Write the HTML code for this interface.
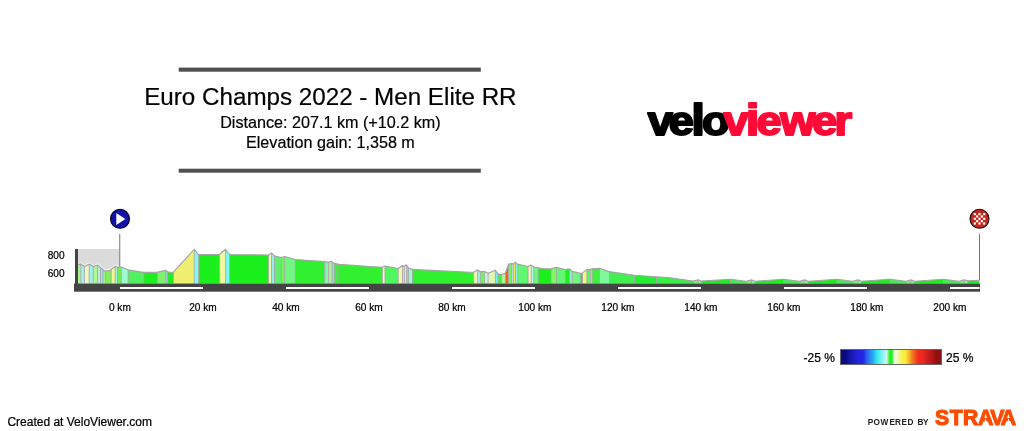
<!DOCTYPE html>
<html><head><meta charset="utf-8"><title>Euro Champs 2022 - Men Elite RR</title>
<style>
html,body{margin:0;padding:0;background:#fff}
body{width:1024px;height:431px;position:relative;overflow:hidden;font-family:"Liberation Sans",sans-serif;color:#000}
svg{position:absolute;left:0;top:0}
svg text{font-family:"Liberation Sans",sans-serif}
</style></head><body>
<svg width="1024" height="431" viewBox="0 0 1024 431">
<defs>
<clipPath id="cp"><polygon points="78,283.5 78,264.7 80.5,263.9 84.6,266.6 89.5,263.9 93.4,266.5 97.8,265.05 101.25,268.3 104.7,271.2 110,270.2 114.9,266.6 117.9,267.3 121.3,267.0 128.1,269.7 143.2,272.4 156.9,272.4 165.7,270.2 167.7,271.9 170,272.2 173.4,272.2 194.2,249.3 198.3,254.5 219.3,254.5 225.5,249.3 229.6,254.5 268.6,255.0 271.5,253 274.4,255.8 281.2,257.5 284.6,256.5 295.4,259.5 324.2,261.6 328.1,262.4 331.7,261.4 334,263.4 339.3,264.4 370,266.5 382.2,267.3 384.6,266 398.3,268.5 402.2,265.5 404.2,266.5 406.3,264.75 408.6,268 412.5,269.4 470,272.2 473.4,272.2 477.6,269.9 480.7,271.9 484.6,271.4 488.1,273.3 495.2,270.2 498.3,274.1 501.7,274.5 505.2,273.3 508.6,264.1 512,263.6 513.5,264.1 515.4,262.1 517.4,264.1 528.1,266.5 531,265 534.5,267.3 542.3,268.5 550.6,268.9 556.4,267.3 565.2,269.6 569.5,268.9 572.4,271.4 581.7,273.5 587.1,269.4 590,269.6 592,268.7 599.8,268.3 609,271.6 634.5,275.3 656.4,276.8 670,277.7 693,281.1 698.3,279.8 701.25,281.1 730.5,279.2 746.2,281.2 751.5,279.9 755.0,281.2 783.7,279.2 799.4,281.2 804.7,279.9 808.2,281.2 836.9,279.2 852.6,281.2 857.9,279.9 861.4,281.2 890.1,279.2 905.8,281.2 911.1,279.9 914.6,281.2 943.3,279.2 959.0,281.2 964.3,279.9 967.8,280.7 979.5,280.2 979.5,283.5"/></clipPath>
<linearGradient id="lg" x1="0" x2="1" y1="0" y2="0">
<stop offset="0" stop-color="#0a0a82"/>
<stop offset="0.05" stop-color="#0a0a82"/>
<stop offset="0.08" stop-color="#14149c"/>
<stop offset="0.13" stop-color="#1c1cc0"/>
<stop offset="0.18" stop-color="#2424e0"/>
<stop offset="0.225" stop-color="#2424e0"/>
<stop offset="0.25" stop-color="#2c50f0"/>
<stop offset="0.285" stop-color="#2880f0"/>
<stop offset="0.32" stop-color="#28a8f0"/>
<stop offset="0.36" stop-color="#30e8f0"/>
<stop offset="0.4" stop-color="#70f0f0"/>
<stop offset="0.43" stop-color="#a0f4f0"/>
<stop offset="0.457" stop-color="#ccf8f0"/>
<stop offset="0.474" stop-color="#70f870"/>
<stop offset="0.488" stop-color="#20f020"/>
<stop offset="0.508" stop-color="#20f020"/>
<stop offset="0.521" stop-color="#70f870"/>
<stop offset="0.536" stop-color="#f8f8e0"/>
<stop offset="0.55" stop-color="#f8f8d8"/>
<stop offset="0.575" stop-color="#f0f8a0"/>
<stop offset="0.615" stop-color="#f8f040"/>
<stop offset="0.64" stop-color="#f8f040"/>
<stop offset="0.66" stop-color="#f8d030"/>
<stop offset="0.686" stop-color="#f8a828"/>
<stop offset="0.708" stop-color="#f08020"/>
<stop offset="0.731" stop-color="#f06020"/>
<stop offset="0.753" stop-color="#f04020"/>
<stop offset="0.78" stop-color="#f02820"/>
<stop offset="0.81" stop-color="#f02820"/>
<stop offset="0.843" stop-color="#d82020"/>
<stop offset="0.9" stop-color="#b81818"/>
<stop offset="0.95" stop-color="#901010"/>
<stop offset="1" stop-color="#8c1010"/>
</linearGradient>
</defs>
<rect x="178.7" y="67.6" width="302.1" height="4.1" fill="#505050"/>
<rect x="178.7" y="168.7" width="302.1" height="4" fill="#505050"/>
<!-- neutral zone -->
<rect x="78" y="249" width="41.5" height="30" fill="#dbdbdb"/>
<g clip-path="url(#cp)">
<rect x="78" y="245" width="2.8" height="40" fill="#a8f58a"/>
<rect x="80.8" y="245" width="3.6" height="40" fill="#a0f0f0"/>
<rect x="84.4" y="245" width="4.8" height="40" fill="#f0f8c0"/>
<rect x="89.2" y="245" width="4.0" height="40" fill="#a0f0f0"/>
<rect x="93.2" y="245" width="4.3" height="40" fill="#b0f890"/>
<rect x="97.5" y="245" width="3.0" height="40" fill="#c0e8e0"/>
<rect x="100.5" y="245" width="2.5" height="40" fill="#80f0f0"/>
<rect x="103" y="245" width="2.4" height="40" fill="#a8f58a"/>
<rect x="105.4" y="245" width="5.8" height="40" fill="#80f060"/>
<rect x="111.2" y="245" width="4.0" height="40" fill="#f0f890"/>
<rect x="115.2" y="245" width="2.3" height="40" fill="#a0f0f0"/>
<rect x="117.5" y="245" width="3.8" height="40" fill="#70f050"/>
<rect x="121.3" y="245" width="6.8" height="40" fill="#a0f8d0"/>
<rect x="128.1" y="245" width="15.6" height="40" fill="#50f060"/>
<rect x="143.7" y="245" width="13.7" height="40" fill="#1cf01c"/>
<rect x="157.4" y="245" width="8.6" height="40" fill="#80f070"/>
<rect x="166" y="245" width="1.7" height="40" fill="#90e0f0"/>
<rect x="167.7" y="245" width="5.7" height="40" fill="#1cf01c"/>
<rect x="173.4" y="245" width="20.8" height="40" fill="#f0f070"/>
<rect x="194.2" y="245" width="4.3" height="40" fill="#80f8f8"/>
<rect x="198.5" y="245" width="21.0" height="40" fill="#1cf01c"/>
<rect x="219.5" y="245" width="6.1" height="40" fill="#f0f8a0"/>
<rect x="225.6" y="245" width="4.0" height="40" fill="#80f8f8"/>
<rect x="229.6" y="245" width="39.0" height="40" fill="#1cf01c"/>
<rect x="268.6" y="245" width="2.9" height="40" fill="#f0f8b0"/>
<rect x="271.5" y="245" width="3.0" height="40" fill="#90f0f0"/>
<rect x="274.5" y="245" width="6.9" height="40" fill="#60f070"/>
<rect x="281.4" y="245" width="3.2" height="40" fill="#70f850"/>
<rect x="284.6" y="245" width="10.6" height="40" fill="#70f880"/>
<rect x="295.2" y="245" width="29.5" height="40" fill="#30f030"/>
<rect x="324.7" y="245" width="3.9" height="40" fill="#80f8b0"/>
<rect x="328.6" y="245" width="3.5" height="40" fill="#b0f090"/>
<rect x="332.1" y="245" width="2.2" height="40" fill="#90e0e0"/>
<rect x="334.3" y="245" width="4.7" height="40" fill="#40f040"/>
<rect x="339" y="245" width="43.4" height="40" fill="#30f030"/>
<rect x="382.4" y="245" width="2.6" height="40" fill="#f0f8c0"/>
<rect x="385" y="245" width="13.3" height="40" fill="#50f860"/>
<rect x="398.3" y="245" width="4.2" height="40" fill="#f0f8b0"/>
<rect x="402.5" y="245" width="2.1" height="40" fill="#b0e8e0"/>
<rect x="404.6" y="245" width="2.0" height="40" fill="#f0f8b0"/>
<rect x="406.6" y="245" width="2.0" height="40" fill="#70e0f0"/>
<rect x="408.6" y="245" width="3.9" height="40" fill="#a0f8d0"/>
<rect x="412.5" y="245" width="61.1" height="40" fill="#30f030"/>
<rect x="473.6" y="245" width="4.0" height="40" fill="#f0f8b0"/>
<rect x="477.6" y="245" width="2.8" height="40" fill="#a0f0f0"/>
<rect x="480.4" y="245" width="4.2" height="40" fill="#70f850"/>
<rect x="484.6" y="245" width="3.5" height="40" fill="#c0f8f0"/>
<rect x="488.1" y="245" width="7.3" height="40" fill="#e0f8b0"/>
<rect x="495.4" y="245" width="2.7" height="40" fill="#70f0f8"/>
<rect x="498.1" y="245" width="3.5" height="40" fill="#40f040"/>
<rect x="501.6" y="245" width="3.8" height="40" fill="#b0f890"/>
<rect x="505.4" y="245" width="3.1" height="40" fill="#f86020"/>
<rect x="508.5" y="245" width="3.1" height="40" fill="#70f860"/>
<rect x="511.6" y="245" width="1.8" height="40" fill="#c0e8f0"/>
<rect x="513.4" y="245" width="2.1" height="40" fill="#f8e850"/>
<rect x="515.5" y="245" width="2.2" height="40" fill="#90f0f8"/>
<rect x="517.7" y="245" width="10.4" height="40" fill="#60f870"/>
<rect x="528.1" y="245" width="3.2" height="40" fill="#f0f8b0"/>
<rect x="531.3" y="245" width="2.5" height="40" fill="#b0f8f0"/>
<rect x="533.8" y="245" width="4.3" height="40" fill="#70f880"/>
<rect x="538.1" y="245" width="13.1" height="40" fill="#1cf01c"/>
<rect x="551.2" y="245" width="5.3" height="40" fill="#80f860"/>
<rect x="556.5" y="245" width="8.9" height="40" fill="#60f870"/>
<rect x="565.4" y="245" width="4.2" height="40" fill="#1cf01c"/>
<rect x="569.6" y="245" width="2.6" height="40" fill="#a0e8e0"/>
<rect x="572.2" y="245" width="8.1" height="40" fill="#70f880"/>
<rect x="580.3" y="245" width="2.2" height="40" fill="#1cf01c"/>
<rect x="582.5" y="245" width="4.4" height="40" fill="#f0f880"/>
<rect x="586.9" y="245" width="3.5" height="40" fill="#58f868"/>
<rect x="590.4" y="245" width="1.6" height="40" fill="#e0d8b0"/>
<rect x="592.1" y="245" width="7.4" height="40" fill="#40f040"/>
<rect x="599.5" y="245" width="10.0" height="40" fill="#80f8a0"/>
<rect x="609.5" y="245" width="25.0" height="40" fill="#40f050"/>
<rect x="634.5" y="245" width="22.0" height="40" fill="#20f030"/>
<rect x="656.5" y="245" width="36.9" height="40" fill="#38f045"/>
<rect x="693.4" y="245" width="4.9" height="40" fill="#70f860"/>
<rect x="698.3" y="245" width="3.4" height="40" fill="#80f8a0"/>
<rect x="701.7" y="245" width="28.8" height="40" fill="#1cf01c"/>
<rect x="730.5" y="245" width="16.1" height="40" fill="#40f050"/>
<rect x="746.6" y="245" width="4.9" height="40" fill="#70f860"/>
<rect x="751.5" y="245" width="3.5" height="40" fill="#80f8a0"/>
<rect x="755.0" y="245" width="28.7" height="40" fill="#1cf01c"/>
<rect x="783.7" y="245" width="16.1" height="40" fill="#40f050"/>
<rect x="799.8" y="245" width="4.9" height="40" fill="#70f860"/>
<rect x="804.7" y="245" width="3.5" height="40" fill="#80f8a0"/>
<rect x="808.2" y="245" width="28.7" height="40" fill="#1cf01c"/>
<rect x="836.9" y="245" width="16.1" height="40" fill="#40f050"/>
<rect x="853.0" y="245" width="4.9" height="40" fill="#70f860"/>
<rect x="857.9" y="245" width="3.5" height="40" fill="#80f8a0"/>
<rect x="861.4" y="245" width="28.7" height="40" fill="#1cf01c"/>
<rect x="890.1" y="245" width="16.1" height="40" fill="#40f050"/>
<rect x="906.2" y="245" width="4.9" height="40" fill="#70f860"/>
<rect x="911.1" y="245" width="3.5" height="40" fill="#80f8a0"/>
<rect x="914.6" y="245" width="28.7" height="40" fill="#1cf01c"/>
<rect x="943.3" y="245" width="16.1" height="40" fill="#40f050"/>
<rect x="959.4" y="245" width="4.9" height="40" fill="#70f860"/>
<rect x="964.3" y="245" width="3.5" height="40" fill="#80f8a0"/>
<rect x="967.8" y="245" width="11.7" height="40" fill="#1cf01c"/>
<g stroke="#a8a2a8" stroke-width="1" stroke-opacity="0.85">
<line x1="80.8" y1="245" x2="80.8" y2="283.5"/>
<line x1="84.4" y1="245" x2="84.4" y2="283.5"/>
<line x1="89.2" y1="245" x2="89.2" y2="283.5"/>
<line x1="93.2" y1="245" x2="93.2" y2="283.5"/>
<line x1="97.5" y1="245" x2="97.5" y2="283.5"/>
<line x1="100.5" y1="245" x2="100.5" y2="283.5"/>
<line x1="103" y1="245" x2="103" y2="283.5"/>
<line x1="105.4" y1="245" x2="105.4" y2="283.5"/>
<line x1="111.2" y1="245" x2="111.2" y2="283.5"/>
<line x1="115.2" y1="245" x2="115.2" y2="283.5"/>
<line x1="117.5" y1="245" x2="117.5" y2="283.5"/>
<line x1="121.3" y1="245" x2="121.3" y2="283.5"/>
<line x1="128.1" y1="245" x2="128.1" y2="283.5"/>
<line x1="143.7" y1="245" x2="143.7" y2="283.5"/>
<line x1="157.4" y1="245" x2="157.4" y2="283.5"/>
<line x1="166" y1="245" x2="166" y2="283.5"/>
<line x1="167.7" y1="245" x2="167.7" y2="283.5"/>
<line x1="173.4" y1="245" x2="173.4" y2="283.5"/>
<line x1="194.2" y1="245" x2="194.2" y2="283.5"/>
<line x1="198.5" y1="245" x2="198.5" y2="283.5"/>
<line x1="219.5" y1="245" x2="219.5" y2="283.5"/>
<line x1="225.6" y1="245" x2="225.6" y2="283.5"/>
<line x1="229.6" y1="245" x2="229.6" y2="283.5"/>
<line x1="268.6" y1="245" x2="268.6" y2="283.5"/>
<line x1="271.5" y1="245" x2="271.5" y2="283.5"/>
<line x1="274.5" y1="245" x2="274.5" y2="283.5"/>
<line x1="281.4" y1="245" x2="281.4" y2="283.5"/>
<line x1="284.6" y1="245" x2="284.6" y2="283.5"/>
<line x1="295.2" y1="245" x2="295.2" y2="283.5"/>
<line x1="324.7" y1="245" x2="324.7" y2="283.5"/>
<line x1="328.6" y1="245" x2="328.6" y2="283.5"/>
<line x1="332.1" y1="245" x2="332.1" y2="283.5"/>
<line x1="334.3" y1="245" x2="334.3" y2="283.5"/>
<line x1="339" y1="245" x2="339" y2="283.5"/>
<line x1="382.4" y1="245" x2="382.4" y2="283.5"/>
<line x1="385" y1="245" x2="385" y2="283.5"/>
<line x1="398.3" y1="245" x2="398.3" y2="283.5"/>
<line x1="402.5" y1="245" x2="402.5" y2="283.5"/>
<line x1="404.6" y1="245" x2="404.6" y2="283.5"/>
<line x1="406.6" y1="245" x2="406.6" y2="283.5"/>
<line x1="408.6" y1="245" x2="408.6" y2="283.5"/>
<line x1="412.5" y1="245" x2="412.5" y2="283.5"/>
<line x1="473.6" y1="245" x2="473.6" y2="283.5"/>
<line x1="477.6" y1="245" x2="477.6" y2="283.5"/>
<line x1="480.4" y1="245" x2="480.4" y2="283.5"/>
<line x1="484.6" y1="245" x2="484.6" y2="283.5"/>
<line x1="488.1" y1="245" x2="488.1" y2="283.5"/>
<line x1="495.4" y1="245" x2="495.4" y2="283.5"/>
<line x1="498.1" y1="245" x2="498.1" y2="283.5"/>
<line x1="501.6" y1="245" x2="501.6" y2="283.5"/>
<line x1="505.4" y1="245" x2="505.4" y2="283.5"/>
<line x1="508.5" y1="245" x2="508.5" y2="283.5"/>
<line x1="511.6" y1="245" x2="511.6" y2="283.5"/>
<line x1="513.4" y1="245" x2="513.4" y2="283.5"/>
<line x1="515.5" y1="245" x2="515.5" y2="283.5"/>
<line x1="517.7" y1="245" x2="517.7" y2="283.5"/>
<line x1="528.1" y1="245" x2="528.1" y2="283.5"/>
<line x1="531.3" y1="245" x2="531.3" y2="283.5"/>
<line x1="533.8" y1="245" x2="533.8" y2="283.5"/>
<line x1="538.1" y1="245" x2="538.1" y2="283.5"/>
<line x1="551.2" y1="245" x2="551.2" y2="283.5"/>
<line x1="556.5" y1="245" x2="556.5" y2="283.5"/>
<line x1="565.4" y1="245" x2="565.4" y2="283.5"/>
<line x1="569.6" y1="245" x2="569.6" y2="283.5"/>
<line x1="572.2" y1="245" x2="572.2" y2="283.5"/>
<line x1="580.3" y1="245" x2="580.3" y2="283.5"/>
<line x1="582.5" y1="245" x2="582.5" y2="283.5"/>
<line x1="586.9" y1="245" x2="586.9" y2="283.5"/>
<line x1="590.4" y1="245" x2="590.4" y2="283.5"/>
<line x1="592.1" y1="245" x2="592.1" y2="283.5"/>
<line x1="599.5" y1="245" x2="599.5" y2="283.5"/>
<line x1="609.5" y1="245" x2="609.5" y2="283.5"/>
<line x1="634.5" y1="245" x2="634.5" y2="283.5"/>
<line x1="656.5" y1="245" x2="656.5" y2="283.5"/>
<line x1="693.4" y1="245" x2="693.4" y2="283.5"/>
<line x1="698.3" y1="245" x2="698.3" y2="283.5"/>
<line x1="701.7" y1="245" x2="701.7" y2="283.5"/>
<line x1="730.5" y1="245" x2="730.5" y2="283.5"/>
<line x1="746.6" y1="245" x2="746.6" y2="283.5"/>
<line x1="751.5" y1="245" x2="751.5" y2="283.5"/>
<line x1="755.0" y1="245" x2="755.0" y2="283.5"/>
<line x1="783.7" y1="245" x2="783.7" y2="283.5"/>
<line x1="799.8" y1="245" x2="799.8" y2="283.5"/>
<line x1="804.7" y1="245" x2="804.7" y2="283.5"/>
<line x1="808.2" y1="245" x2="808.2" y2="283.5"/>
<line x1="836.9" y1="245" x2="836.9" y2="283.5"/>
<line x1="853.0" y1="245" x2="853.0" y2="283.5"/>
<line x1="857.9" y1="245" x2="857.9" y2="283.5"/>
<line x1="861.4" y1="245" x2="861.4" y2="283.5"/>
<line x1="890.1" y1="245" x2="890.1" y2="283.5"/>
<line x1="906.2" y1="245" x2="906.2" y2="283.5"/>
<line x1="911.1" y1="245" x2="911.1" y2="283.5"/>
<line x1="914.6" y1="245" x2="914.6" y2="283.5"/>
<line x1="943.3" y1="245" x2="943.3" y2="283.5"/>
<line x1="959.4" y1="245" x2="959.4" y2="283.5"/>
<line x1="964.3" y1="245" x2="964.3" y2="283.5"/>
<line x1="967.8" y1="245" x2="967.8" y2="283.5"/>
</g>
</g>
<polyline points="78,264.7 80.5,263.9 84.6,266.6 89.5,263.9 93.4,266.5 97.8,265.05 101.25,268.3 104.7,271.2 110,270.2 114.9,266.6 117.9,267.3 121.3,267.0 128.1,269.7 143.2,272.4 156.9,272.4 165.7,270.2 167.7,271.9 170,272.2 173.4,272.2 194.2,249.3 198.3,254.5 219.3,254.5 225.5,249.3 229.6,254.5 268.6,255.0 271.5,253 274.4,255.8 281.2,257.5 284.6,256.5 295.4,259.5 324.2,261.6 328.1,262.4 331.7,261.4 334,263.4 339.3,264.4 370,266.5 382.2,267.3 384.6,266 398.3,268.5 402.2,265.5 404.2,266.5 406.3,264.75 408.6,268 412.5,269.4 470,272.2 473.4,272.2 477.6,269.9 480.7,271.9 484.6,271.4 488.1,273.3 495.2,270.2 498.3,274.1 501.7,274.5 505.2,273.3 508.6,264.1 512,263.6 513.5,264.1 515.4,262.1 517.4,264.1 528.1,266.5 531,265 534.5,267.3 542.3,268.5 550.6,268.9 556.4,267.3 565.2,269.6 569.5,268.9 572.4,271.4 581.7,273.5 587.1,269.4 590,269.6 592,268.7 599.8,268.3 609,271.6 634.5,275.3 656.4,276.8 670,277.7 693,281.1 698.3,279.8 701.25,281.1 730.5,279.2 746.2,281.2 751.5,279.9 755.0,281.2 783.7,279.2 799.4,281.2 804.7,279.9 808.2,281.2 836.9,279.2 852.6,281.2 857.9,279.9 861.4,281.2 890.1,279.2 905.8,281.2 911.1,279.9 914.6,281.2 943.3,279.2 959.0,281.2 964.3,279.9 967.8,280.7 979.5,280.2" fill="none" stroke="#fff" stroke-opacity="0.75" stroke-width="1.1" stroke-linejoin="round" transform="translate(0,-1.05)"/>
<polyline points="78,264.7 80.5,263.9 84.6,266.6 89.5,263.9 93.4,266.5 97.8,265.05 101.25,268.3 104.7,271.2 110,270.2 114.9,266.6 117.9,267.3 121.3,267.0 128.1,269.7 143.2,272.4 156.9,272.4 165.7,270.2 167.7,271.9 170,272.2 173.4,272.2 194.2,249.3 198.3,254.5 219.3,254.5 225.5,249.3 229.6,254.5 268.6,255.0 271.5,253 274.4,255.8 281.2,257.5 284.6,256.5 295.4,259.5 324.2,261.6 328.1,262.4 331.7,261.4 334,263.4 339.3,264.4 370,266.5 382.2,267.3 384.6,266 398.3,268.5 402.2,265.5 404.2,266.5 406.3,264.75 408.6,268 412.5,269.4 470,272.2 473.4,272.2 477.6,269.9 480.7,271.9 484.6,271.4 488.1,273.3 495.2,270.2 498.3,274.1 501.7,274.5 505.2,273.3 508.6,264.1 512,263.6 513.5,264.1 515.4,262.1 517.4,264.1 528.1,266.5 531,265 534.5,267.3 542.3,268.5 550.6,268.9 556.4,267.3 565.2,269.6 569.5,268.9 572.4,271.4 581.7,273.5 587.1,269.4 590,269.6 592,268.7 599.8,268.3 609,271.6 634.5,275.3 656.4,276.8 670,277.7 693,281.1 698.3,279.8 701.25,281.1 730.5,279.2 746.2,281.2 751.5,279.9 755.0,281.2 783.7,279.2 799.4,281.2 804.7,279.9 808.2,281.2 836.9,279.2 852.6,281.2 857.9,279.9 861.4,281.2 890.1,279.2 905.8,281.2 911.1,279.9 914.6,281.2 943.3,279.2 959.0,281.2 964.3,279.9 967.8,280.7 979.5,280.2" fill="none" stroke="#a6a2a6" stroke-width="1.15" stroke-linejoin="round"/>
<!-- axes -->
<rect x="75" y="249" width="3" height="35" fill="#444"/>
<rect x="74" y="283.5" width="906" height="8.2" fill="#444"/>
<rect x="120" y="287" width="83" height="2" fill="#fff"/>
<rect x="286" y="287" width="83" height="2" fill="#fff"/>
<rect x="452" y="287" width="83" height="2" fill="#fff"/>
<rect x="618" y="287" width="83" height="2" fill="#fff"/>
<rect x="784" y="287" width="83" height="2" fill="#fff"/>
<rect x="950" y="287" width="29.5" height="2" fill="#fff"/>

<!-- marker lines -->
<line x1="119.75" y1="234" x2="119.75" y2="266.8" stroke="#777" stroke-width="1"/>
<line x1="979.5" y1="234" x2="979.5" y2="280" stroke="#777" stroke-width="1"/>
<!-- start marker -->
<circle cx="120" cy="218.8" r="9.5" fill="#1212a8" stroke="#02021c" stroke-width="1.1"/>
<polygon points="116.3,213 116.3,224.9 125.3,218.9" fill="#fff"/>
<!-- finish marker -->
<circle cx="979.5" cy="218.8" r="9.5" fill="#c4261d" stroke="#280606" stroke-width="1.1"/>
<rect x="973.70" y="213.00" width="2.2" height="2.2" fill="#fff"/><rect x="978.40" y="213.00" width="2.2" height="2.2" fill="#fff"/><rect x="983.10" y="213.00" width="2.2" height="2.2" fill="#fff"/><rect x="976.05" y="215.35" width="2.2" height="2.2" fill="#fff"/><rect x="980.75" y="215.35" width="2.2" height="2.2" fill="#fff"/><rect x="973.70" y="217.70" width="2.2" height="2.2" fill="#fff"/><rect x="978.40" y="217.70" width="2.2" height="2.2" fill="#fff"/><rect x="983.10" y="217.70" width="2.2" height="2.2" fill="#fff"/><rect x="976.05" y="220.05" width="2.2" height="2.2" fill="#fff"/><rect x="980.75" y="220.05" width="2.2" height="2.2" fill="#fff"/><rect x="973.70" y="222.40" width="2.2" height="2.2" fill="#fff"/><rect x="978.40" y="222.40" width="2.2" height="2.2" fill="#fff"/><rect x="983.10" y="222.40" width="2.2" height="2.2" fill="#fff"/>
<g font-size="10.12" fill="#000" stroke="#000" stroke-width="0.22">
<text x="64.6" y="259.3" text-anchor="end">800</text>
<text x="64.6" y="277.3" text-anchor="end">600</text>
<text x="119.9" y="311" text-anchor="middle">0 km</text>
<text x="202.9" y="311" text-anchor="middle">20 km</text>
<text x="285.9" y="311" text-anchor="middle">40 km</text>
<text x="368.9" y="311" text-anchor="middle">60 km</text>
<text x="451.9" y="311" text-anchor="middle">80 km</text>
<text x="534.9" y="311" text-anchor="middle">100 km</text>
<text x="617.9" y="311" text-anchor="middle">120 km</text>
<text x="700.9" y="311" text-anchor="middle">140 km</text>
<text x="783.9" y="311" text-anchor="middle">160 km</text>
<text x="866.9" y="311" text-anchor="middle">180 km</text>
<text x="949.9" y="311" text-anchor="middle">200 km</text>

</g>
<g fill="#000" text-anchor="middle" stroke="#000" stroke-width="0.2">
<text x="330.4" y="104.5" font-size="24.2">Euro Champs 2022 - Men Elite RR</text>
<text x="330.4" y="128" font-size="16.17">Distance: 207.1 km (+10.2 km)</text>
<text x="330.4" y="148.1" font-size="16.17">Elevation gain: 1,358 m</text>
</g>
<!-- logos -->
<g transform="scale(1.1,1)" role="img" aria-label="veloviewer"><text y="135.4" x="588.82 608.00 628.45 638.09 657.73 678.00 687.82 709.27 738.45 758.55" font-size="41" font-weight="bold" stroke-width="2" stroke-linejoin="round"><tspan fill="#000" stroke="#000">ve<tspan font-size="45">l</tspan>o</tspan><tspan fill="#ff0a36" stroke="#ff0a36">v<tspan font-size="45">i</tspan>ewer</tspan></text></g>
<g transform="scale(0.92,1)"><text y="424.7" x="943.21 949.49 957.16 966.87 972.85 979.86 986.32 993.48 997.25 1003.29" font-size="9" font-weight="bold" fill="#222">POWERED BY</text></g>
<text y="424.5" x="934.89 949.67 962.93 977.96 990.23 1000.86" font-size="21.2" font-weight="bold" fill="#fc4c02" stroke="#fc4c02" stroke-width="1.1">STRAVA</text>
<g fill="#fff"><polygon points="985.6,418.6 982.9,426 988.3,426"/><polygon points="1008.5,418.6 1005.6,426 1011.4,426"/></g>
<!-- legend -->
<rect x="840.5" y="349.5" width="101" height="15" fill="url(#lg)" stroke="#666" stroke-width="1"/>
<g font-size="12" fill="#000" stroke="#000" stroke-width="0.22">
<text x="803.5" y="362">-25 %</text>
<text x="946" y="362">25 %</text>
<text x="7.4" y="425.7">Created at VeloViewer.com</text>
</g>
</svg>
</body></html>
